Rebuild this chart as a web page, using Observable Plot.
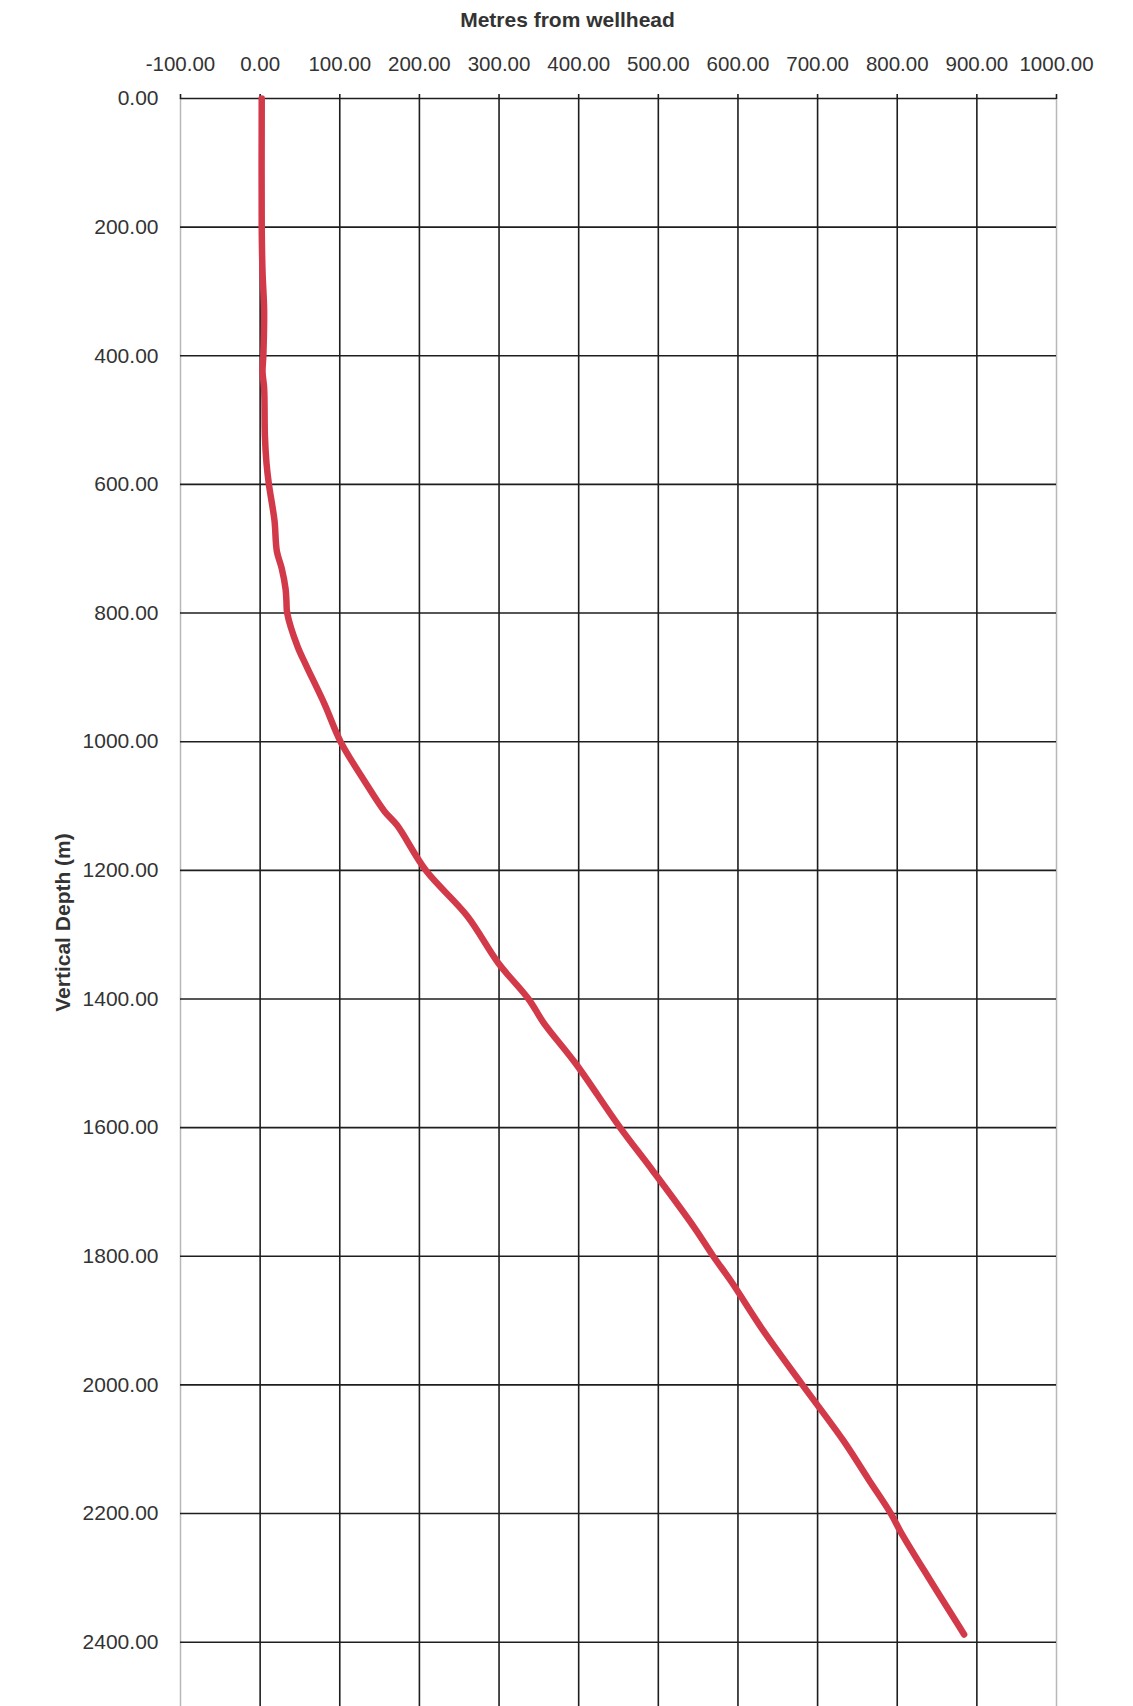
<!DOCTYPE html>
<html>
<head>
<meta charset="utf-8">
<script src="https://cdn.jsdelivr.net/npm/d3@7"></script>
<script src="https://cdn.jsdelivr.net/npm/@observablehq/plot@0.6"></script>
<style>
  html, body { margin: 0; padding: 0; background: #fff; }
</style>
</head>
<body>
<div id="chart"></div>
<script>
// Well trajectory (depth in m, horizontal offset in m)
const depth  = [0, 200, 270, 330, 400, 425, 450, 525, 567, 600, 656, 704, 730, 763, 781, 800, 852, 882, 942, 1000, 1061, 1108, 1130, 1200, 1271, 1344, 1400, 1437, 1500, 1600, 1667, 1755, 1800, 1840, 1916, 2000, 2086, 2147, 2200, 2230, 2303, 2376, 2388];
const offset = [2, 2, 3, 5, 4, 3, 5, 6, 8, 11, 18, 21, 27, 32, 33, 34, 47, 58, 81, 101, 131, 156, 172, 208, 260, 299, 337, 356, 396, 452, 493, 545, 569, 592, 632, 681, 732, 764, 792, 805, 841, 878, 884];

const xTicks = [-100, 0, 100, 200, 300, 400, 500, 600, 700, 800, 900, 1000];
const xInner = [0, 100, 200, 300, 400, 500, 600, 700, 800, 900];
const xEdges = [-100, 1000];
const yTicks = [0, 200, 400, 600, 800, 1000, 1200, 1400, 1600, 1800, 2000, 2200, 2400];

const xTitle = "Metres from wellhead";
const yTitle = "Vertical Depth (m)";

const data = depth.map((d, i) => ({depth: d, offset: offset[i]}));
const fmt = (v) => d3.format(".2f")(v).replace("\u2212", "-");

const chart = Plot.plot({
  width: 1133,
  height: 1706,
  marginLeft: 180,
  marginRight: 77,
  marginTop: 98,
  marginBottom: 0,
  style: {fontFamily: "'Liberation Sans', Arial, sans-serif", fontSize: "20px", color: "#333", background: "#fff"},
  x: {domain: [-100, 1000], axis: null},
  y: {domain: [0, 2500], reverse: true, axis: null},
  marks: [
    Plot.gridX(xEdges, {stroke: "#b8b8b8", strokeOpacity: 1, strokeWidth: 1.5}),
    Plot.gridX(xInner, {stroke: "#1e1e1e", strokeOpacity: 1, strokeWidth: 1.6}),
    Plot.gridY(yTicks, {stroke: "#1e1e1e", strokeOpacity: 1, strokeWidth: 1.6}),
    Plot.axisX(xTicks, {anchor: "top", tickFormat: fmt, tickSize: 5, tickPadding: 23, fontSize: 20.5, stroke: "#1e1e1e", strokeWidth: 1.6, label: null}),
    Plot.axisY(yTicks, {anchor: "left", tickFormat: fmt, tickSize: 0, tickPadding: 22, fontSize: 21, label: null}),
    Plot.line(data, {x: "offset", y: "depth", curve: "catmull-rom", stroke: "#d23a4a", strokeWidth: 6.5, strokeLinecap: "round", strokeLinejoin: "round"}),
    Plot.text([xTitle], {frameAnchor: "top", lineAnchor: "middle", dx: -51, dy: -78, fontWeight: "bold", fontSize: 21, fill: "#333"}),
    Plot.text([yTitle], {frameAnchor: "left", textAnchor: "middle", lineAnchor: "middle", rotate: -90, dx: -117, dy: 20, fontWeight: "bold", fontSize: 21, fill: "#333"})
  ]
});

document.getElementById("chart").appendChild(chart);
</script>
</body>
</html>
